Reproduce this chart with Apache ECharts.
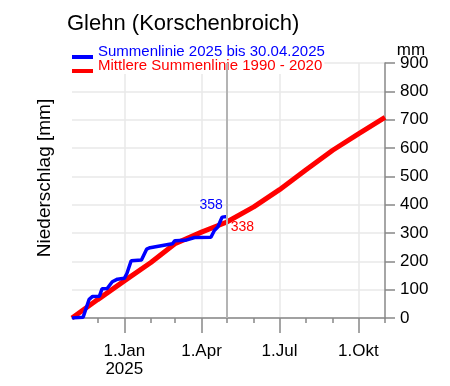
<!DOCTYPE html>
<html><head><meta charset="utf-8">
<script src="https://cdn.jsdelivr.net/npm/echarts@6/dist/echarts.min.js"></script>
<style>html,body{margin:0;padding:0;background:#fff}#c{width:450px;height:386px}</style>
</head><body><div id="c"></div>
<script>
const titleText = 'Glehn (Korschenbroich)';
const yAxisTitle = 'Niederschlag [mm]';
const unitLabel = 'mm';
const seriesNames = ['Summenlinie 2025 bis 30.04.2025', 'Mittlere Summenlinie 1990 - 2020'];

const blueDates = ['2024-11-01','2024-11-14','2024-11-16','2024-11-21','2024-11-25','2024-12-03','2024-12-06','2024-12-12','2024-12-18','2024-12-24','2025-01-01','2025-01-04','2025-01-09','2025-01-21','2025-01-27','2025-01-31','2025-02-26','2025-03-01','2025-03-13','2025-03-24','2025-04-12','2025-04-16','2025-04-20','2025-04-22','2025-04-25','2025-05-01'];
const blueValues = [0,3,6,66,76,77,103,104,128,137,140,157,202,205,243,248,262,273,274,284,285,309,321,322,356,358];

const redDates = ['2024-11-01','2024-12-01','2025-01-01','2025-02-01','2025-03-01','2025-04-01','2025-04-30','2025-06-01','2025-07-01','2025-08-01','2025-09-01','2025-10-01','2025-11-01'];
const redValues = [0,65,131,196,262,303,338,392,453,523,592,650,708];
const redLabelDate = '2025-04-30';

const axisStart = '2024-11-01';
const axisEnd = '2025-11-01';
const cutoffDate = '2025-05-01';
const monthTickDates = ['2024-12-01','2025-01-01','2025-02-01','2025-03-01','2025-04-01','2025-05-01','2025-06-01','2025-07-01','2025-08-01','2025-09-01','2025-10-01','2025-11-01'];
const quarterDates = ['2025-01-01','2025-04-01','2025-07-01','2025-10-01'];
const quarterLabels = ['1.Jan\n2025','1.Apr','1.Jul','1.Okt'];
const yMin = 0, yMax = 900, yStep = 100;

function ts(s){const p=s.split('-').map(Number);return new Date(p[0],p[1]-1,p[2]).getTime();}
const FONT = 'Liberation Sans, Arial, sans-serif';
const LEGEND_ICON = 'path://M0,0h21v0.01h-21z M0,10h21v4h-21z';

const blueData = blueDates.map((d,i)=>{
  const item = {value:[ts(d), blueValues[i]]};
  if (i === blueDates.length-1) item.label = {show:true, position:[-16,-11], align:'center', verticalAlign:'middle', color:'#0000ff', fontSize:14, fontFamily:FONT, formatter:p=>String(p.value[1])};
  return item;
});
const redData = redDates.map((d,i)=>{
  const item = {value:[ts(d), redValues[i]]};
  if (d === redLabelDate) item.label = {show:true, position:[16,5], align:'center', verticalAlign:'middle', color:'#ff0000', fontSize:14, fontFamily:FONT, formatter:p=>String(p.value[1])};
  return item;
});
const qTs = quarterDates.map(ts);

const chart = echarts.init(document.getElementById('c'), null, {renderer:'canvas'});
chart.setOption({
  animation:false,
  backgroundColor:'#fff',
  textStyle:{fontFamily:FONT},
  title:{text:titleText, left:67, top:13, padding:0, textStyle:{fontSize:22, fontWeight:'normal', color:'#000', fontFamily:FONT}},
  legend:[
    {data:[seriesNames[0]], left:72, top:44, padding:[0,2,0,0], orient:'vertical', icon:LEGEND_ICON, itemWidth:21, itemHeight:14, backgroundColor:'#fff', selectedMode:false,
     textStyle:{fontSize:15, color:'#0000ff', lineHeight:16, fontFamily:FONT}},
    {data:[seriesNames[1]], left:72, top:58, padding:[0,2,0,0], orient:'vertical', icon:LEGEND_ICON, itemWidth:21, itemHeight:14, backgroundColor:'#fff', selectedMode:false,
     textStyle:{fontSize:15, color:'#ff0000', lineHeight:16, fontFamily:FONT}}
  ],
  grid:{left:72, right:65, top:63, bottom:68, outerBoundsMode:'none', containLabel:false},
  xAxis:[
    {type:'value', min:ts(axisStart), max:ts(axisEnd), position:'bottom', scale:true,
     axisLine:{show:true, lineStyle:{color:'#888', width:1.5}},
     axisTick:{show:true, customValues:monthTickDates.map(ts), length:5, lineStyle:{color:'#888', width:1.5}},
     axisLabel:{show:false}, splitLine:{show:false}},
    {type:'value', min:ts(axisStart), max:ts(axisEnd), position:'bottom', scale:true,
     axisLine:{show:false},
     axisTick:{show:true, customValues:qTs, length:15, lineStyle:{color:'#888', width:1.5}},
     axisLabel:{show:true, customValues:qTs, margin:24, fontSize:17, lineHeight:18, color:'#000', fontFamily:FONT,
       formatter:v=>{const i=qTs.indexOf(v);return i>=0?quarterLabels[i]:'';}},
     splitLine:{show:true, lineStyle:{color:'#e8e8e8', width:1.5}}}
  ],
  yAxis:{type:'value', position:'right', min:yMin, max:yMax, interval:yStep,
     axisLine:{show:true, lineStyle:{color:'#888', width:1.5}},
     axisTick:{show:true, length:10, inside:false, lineStyle:{color:'#888', width:1.5}},
     axisLabel:{margin:15, fontSize:17, color:'#000', fontFamily:FONT},
     splitLine:{show:true, lineStyle:{color:'#e8e8e8', width:1.5}}},
  graphic:[
    {type:'text', x:44.5, y:178, rotation:Math.PI/2, style:{text:yAxisTitle, fontSize:19, fontFamily:FONT, fill:'#000', align:'center', verticalAlign:'middle'}},
    {type:'text', x:411, y:50, style:{text:unitLabel, fontSize:17, fontFamily:FONT, fill:'#000', align:'center', verticalAlign:'middle'}}
  ],
  series:[
    {name:seriesNames[1], type:'line', xAxisIndex:0, data:redData, showSymbol:true, symbol:'circle', symbolSize:0,
     lineStyle:{color:'#ff0000', width:5}, itemStyle:{color:'#ff0000'}, silent:true, z:2},
    {name:seriesNames[0], type:'line', xAxisIndex:0, data:blueData, showSymbol:true, symbol:'circle', symbolSize:0,
     lineStyle:{color:'#0000ff', width:3.5}, itemStyle:{color:'#0000ff'}, silent:true, z:3,
     markLine:{silent:true, symbol:'none', label:{show:false}, lineStyle:{color:'#b4b4b4', width:2, type:'solid'},
       data:[{xAxis:ts(cutoffDate)}]}}
  ]
});
</script></body></html>
